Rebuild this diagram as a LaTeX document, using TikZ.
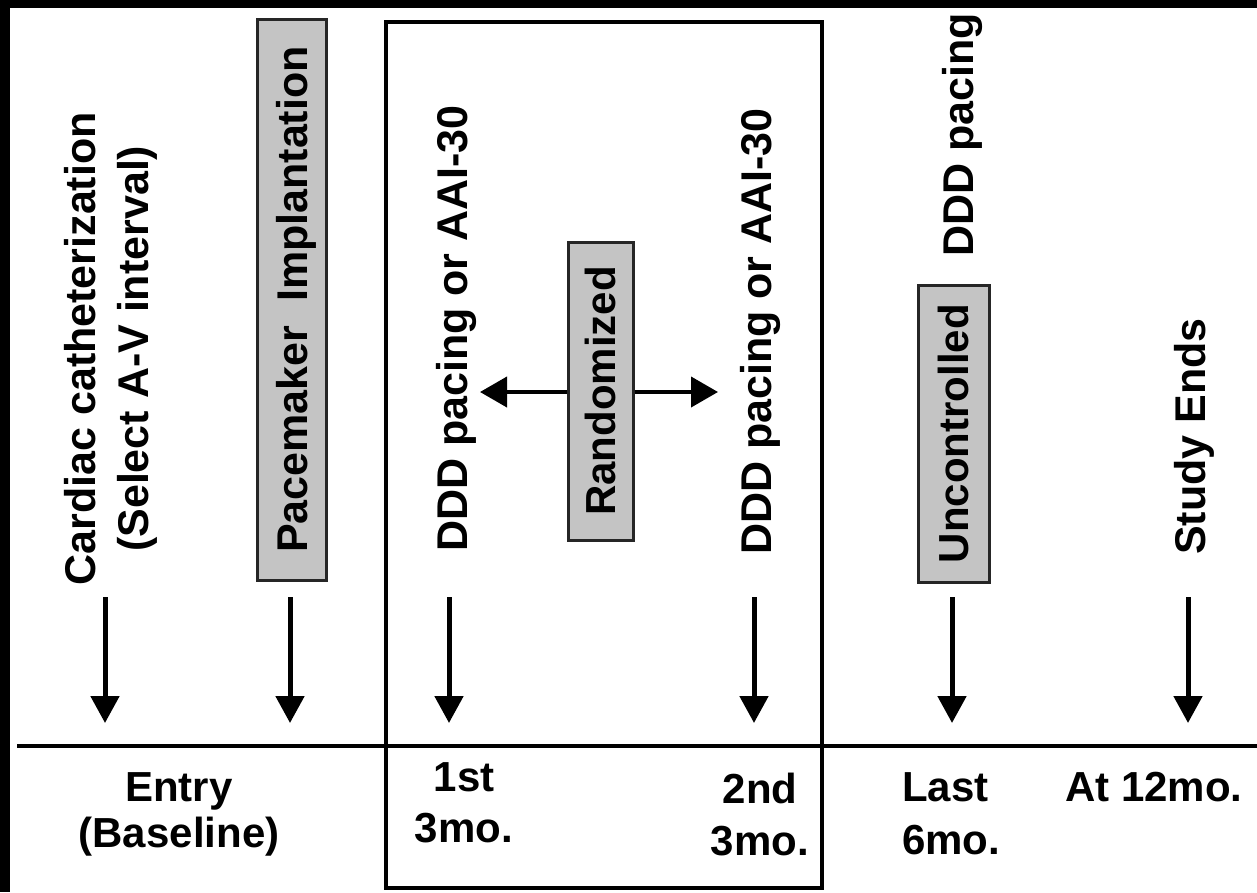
\documentclass[tikz,border=0pt]{standalone}
\usepackage{fontspec}
\setmainfont{Liberation Sans}
\usetikzlibrary{arrows.meta}
\begin{document}
\begin{tikzpicture}[x=1pt,y=-1pt,
  txt/.style={font=\bfseries\fontsize{42}{53}\selectfont, inner sep=0pt},
  blab/.style={inner sep=0pt, font=\bfseries\fontsize{42}{#1}\selectfont},
  vtxt/.style={inner sep=0pt, font=\bfseries\fontsize{43}{53}\selectfont, rotate=90},
  graybox/.style={txt, rotate=90, fill=black!23, draw=black!85, line width=3pt, text depth=0pt},
  downarrow/.style={line width=5pt, -{Triangle[length=27pt,width=28pt]}},
  sidearrow/.style={line width=4pt, -{Triangle[length=27pt,width=30pt]}},
  frame/.style={draw, line width=3.5pt, inner sep=0pt}
]
% background with black top and left edges
\fill[black] (0,0) rectangle (1257,892);
\fill[white] (10,8) rectangle (1257,892);
\useasboundingbox (0,0) rectangle (1257,892);

% randomized period frame
\node[frame, minimum width=436pt, minimum height=866pt] (period) at (604,455) {};

% timeline
\coordinate (tl) at (17,746);
\coordinate (tr) at (1257,746);
\draw[line width=3.5pt] (tl) -- (tr);

% vertical labels
\node[vtxt, align=center, anchor=north east] (cath) at (64,112)
  {Cardiac catheterization\\(Select A-V interval)};
\node[graybox, font=\bfseries\fontsize{43}{53}\selectfont, minimum width=561pt, minimum height=69pt] (pace) at (291.5,299.5)
  {Pacemaker\ \ Implantation};
\node[vtxt, anchor=base east] (ddda) at (467,105) {DDD pacing or AAI-30};
\node[graybox, minimum width=298pt, minimum height=65pt] (rand) at (600.5,391) {Randomized};
\node[vtxt, anchor=base east] (dddb) at (771,108) {DDD pacing or AAI-30};
\node[vtxt, anchor=base east] (dddp) at (973,13) {DDD pacing};
\node[graybox, minimum width=297pt, minimum height=71pt] (unc) at (953.5,433.5) {Uncontrolled};
\node[vtxt, anchor=base east] (study) at (1205,318) {Study Ends};

% randomization arrows
\coordinate (tipL) at (480,392);
\coordinate (tipR) at (718,392);
\draw[sidearrow] (rand.north |- tipL) -- (tipL);
\draw[sidearrow] (rand.south |- tipR) -- (tipR);

% downward arrows
\foreach \n/\x in {1/105,2/290,3/449,4/754,5/952,6/1188}{
  \coordinate (s\n) at (\x,597);
  \coordinate (e\n) at (\x,723);
  \draw[downarrow] (s\n) -- (e\n);
}

% time labels
\node[blab=46, align=center, anchor=north] (entry) at (179,772) {Entry\\(Baseline)};
\node[blab=51, align=center, anchor=north] (first) at (464,762) {1st\\3mo.};
\node[blab=52, align=center, anchor=north] (second) at (760,773) {2nd\\3mo.};
\node[blab=53, align=left, anchor=north west] (last) at (902,772) {Last\\6mo.};
\node[blab=53, anchor=north west] (end) at (1065,772) {At 12mo.};
\end{tikzpicture}
\end{document}
